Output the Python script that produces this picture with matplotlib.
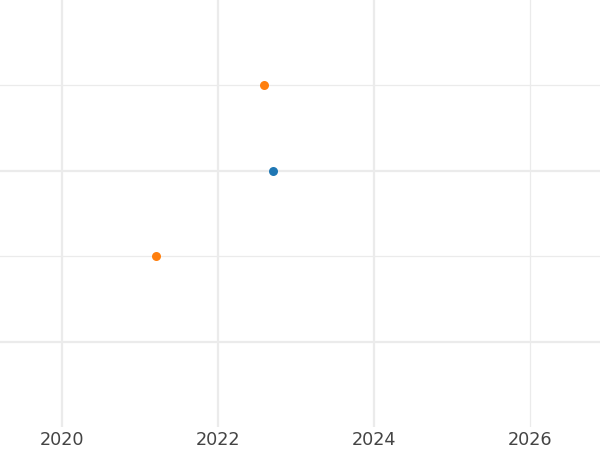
import matplotlib
matplotlib.use("Agg")
import matplotlib.pyplot as plt
from matplotlib.ticker import FixedLocator

# data
blue_x = [2022.7]
blue_y = [1.0]
orange_x = [2022.59, 2021.2]
orange_y = [1.5, 0.5]
year_ticks = [2020, 2022, 2024, 2026]

fig = plt.figure(figsize=(6, 4.5), dpi=100)
ax = fig.add_axes([0, 0.0511, 1, 0.9489])

ax.scatter(blue_x, blue_y, s=42, color="#1f77b4", zorder=3, linewidths=0)
ax.scatter(orange_x, orange_y, s=42, color="#ff7f0e", zorder=3, linewidths=0)

ax.set_xlim(2019.205, 2026.897)
ax.set_ylim(-0.5, 2.0)
ax.set_xticks(year_ticks)
ax.yaxis.set_major_locator(FixedLocator([0, 1]))
ax.yaxis.set_minor_locator(FixedLocator([0.5, 1.5]))

ax.grid(True, which="major", color="#ebebeb", linewidth=1.6)
ax.grid(True, which="minor", axis="y", color="#ebebeb", linewidth=0.9)
ax.get_xgridlines()[-1].set_linewidth(0.9)
ax.set_axisbelow(True)

for s in ax.spines.values():
    s.set_visible(False)
ax.tick_params(axis="x", length=0, pad=3, labelsize=12.7, labelcolor="#444444")
ax.tick_params(axis="y", which="both", length=0, labelleft=False)

fig.savefig("out.png", dpi=100)
